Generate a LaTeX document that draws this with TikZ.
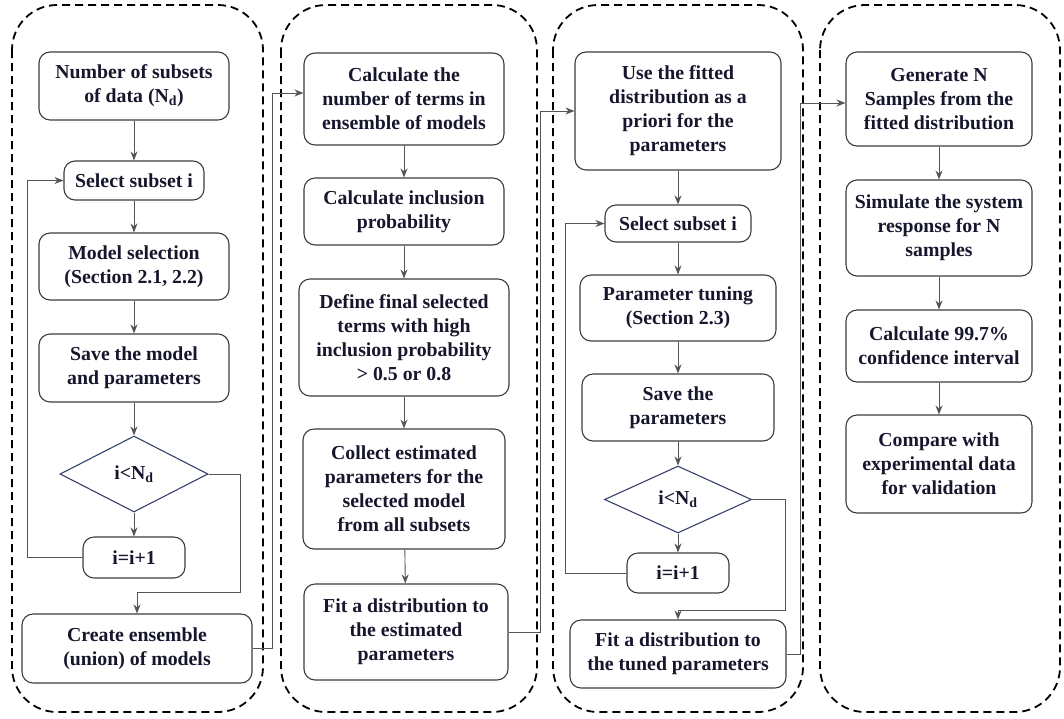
\documentclass[tikz,border=0pt]{standalone}
\usepackage{fontspec}
\setmainfont{Liberation Serif}
\usetikzlibrary{arrows.meta,shapes.geometric}
\definecolor{inkblue}{RGB}{22,22,45}
\definecolor{boxgray}{RGB}{60,60,60}
\definecolor{dianavy}{RGB}{55,65,105}
\definecolor{linegray}{RGB}{85,85,85}
\newcommand\boxfont{\fontsize{19.8}{24}\selectfont\bfseries}
\tikzset{
    panel/.style={draw=black, line width=1.8pt, dash pattern=on 8pt off 5pt, rounded corners=45pt},
    procbox/.style={draw=boxgray, line width=1.1pt, rounded corners=11pt, align=center, inner sep=1pt, text=inkblue, font=\boxfont},
    decbox/.style={diamond, draw=dianavy, line width=1.1pt, aspect=2, inner sep=0pt, text=inkblue, font=\boxfont},
    arr/.style={draw=linegray, line width=0.9pt, -{Stealth[length=9pt,width=7pt]}}
}
\begin{document}
\begin{tikzpicture}[x=1pt,y=-1pt]
            \clip (0,0) rectangle (1064,718);
            % dashed panels
            \draw[panel] (12,5) rectangle (263,712);
            \draw[panel] (281,5) rectangle (537,712);
            \draw[panel] (553,5) rectangle (803,712);
            \draw[panel] (820,5) rectangle (1060,712);
            % panel 1
            \node[procbox, minimum width=190pt, minimum height=68pt] (numA) at (134,86) {Number of subsets\\of data (N\textsubscript{d})};
            \node[procbox, minimum width=140pt, minimum height=39pt] (selA) at (134,180.5) {Select subset i};
            \node[procbox, minimum width=190pt, minimum height=67pt] (modS) at (134,266.5) {Model selection\\(Section 2.1, 2.2)};
            \node[procbox, minimum width=190pt, minimum height=68pt] (saveA) at (134,368) {Save the model\\and parameters};
            \node[decbox, minimum width=148pt, minimum height=76pt] (decA) at (134,474) {i<N\textsubscript{d}};
            \node[procbox, minimum width=102pt, minimum height=41pt] (incA) at (134,557.5) {i=i+1};
            \node[procbox, minimum width=230pt, minimum height=69pt] (ens) at (137,648.5) {Create ensemble\\(union) of models};
            \coordinate (tA) at (240,592);
            \draw[arr] (numA) -- (selA);
            \draw[arr] (selA) -- (modS);
            \draw[arr] (modS) -- (saveA);
            \draw[arr] (saveA) -- (decA);
            \draw[arr] (decA) -- (incA);
            \draw[arr] (incA.west) -- ++(-55,0) |- (selA.west);
            \draw[arr] (decA.east) -| (tA) -| (ens.north);
            % panel 2
            \node[procbox, minimum width=200pt, minimum height=92pt] (calcT) at (404,99) {Calculate the\\number of terms in\\ensemble of models};
            \node[procbox, minimum width=200pt, minimum height=67pt] (incP) at (404,211.5) {Calculate inclusion\\probability};
            \node[procbox, minimum width=210pt, minimum height=117pt] (defF) at (404,337.5) {Define final selected\\terms with high\\inclusion probability\\> 0.5 or 0.8};
            \node[procbox, minimum width=202pt, minimum height=120pt] (coll) at (404,489) {Collect estimated\\parameters for the\\selected model\\from all subsets};
            \node[procbox, minimum width=204pt, minimum height=96pt] (fitE) at (406,632) {Fit a distribution to\\the estimated\\parameters};
            \draw[arr] (ens.east) -- ++(20,0) |- ([yshift=6pt]calcT.west);
            \draw[arr] (calcT) -- (incP);
            \draw[arr] (incP) -- (defF);
            \draw[arr] (defF) -- (coll);
            \draw[arr] (coll) -- (fitE);
            % panel 3
            \node[procbox, minimum width=206pt, minimum height=118pt] (useF) at (678,111) {Use the fitted\\distribution as a\\priori for the\\parameters};
            \node[procbox, minimum width=146pt, minimum height=37pt] (selB) at (678,223.5) {Select subset i};
            \node[procbox, minimum width=196pt, minimum height=66pt] (parT) at (678,308) {Parameter tuning\\(Section 2.3)};
            \node[procbox, minimum width=192pt, minimum height=67pt] (saveB) at (678,407.5) {Save the\\parameters};
            \node[decbox, minimum width=147pt, minimum height=67pt] (decB) at (678,499.5) {i<N\textsubscript{d}};
            \node[procbox, minimum width=102pt, minimum height=40pt] (incB) at (678,573) {i=i+1};
            \node[procbox, minimum width=216pt, minimum height=68pt] (fitT) at (678,654) {Fit a distribution to\\the tuned parameters};
            \coordinate (tB) at (785,610);
            \draw[arr] (fitE.east) -- ++(32,0) |- (useF.west);
            \draw[arr] (useF) -- (selB);
            \draw[arr] (selB) -- (parT);
            \draw[arr] (parT) -- (saveB);
            \draw[arr] (saveB) -- (decB);
            \draw[arr] (decB) -- (incB);
            \draw[arr] (incB.west) -- ++(-61,0) |- (selB.west);
            \draw[arr] (decB.east) -| (tB) -| (fitT.north);
            % panel 4
            \node[procbox, minimum width=186pt, minimum height=94pt] (genN) at (939,99) {Generate N\\Samples from the\\fitted distribution};
            \node[procbox, minimum width=186pt, minimum height=96pt] (simS) at (939,228) {Simulate the system\\response for N\\samples};
            \node[procbox, minimum width=186pt, minimum height=72pt] (calcC) at (939,346) {Calculate 99.7\%\\confidence interval};
            \node[procbox, minimum width=186pt, minimum height=98pt] (comp) at (939,464) {Compare with\\experimental data\\for validation};
            \draw[arr] (fitT.east) -- ++(14,0) |- ([yshift=-4pt]genN.west);
            \draw[arr] (genN) -- (simS);
            \draw[arr] (simS) -- (calcC);
            \draw[arr] (calcC) -- (comp);
\end{tikzpicture}
\end{document}
